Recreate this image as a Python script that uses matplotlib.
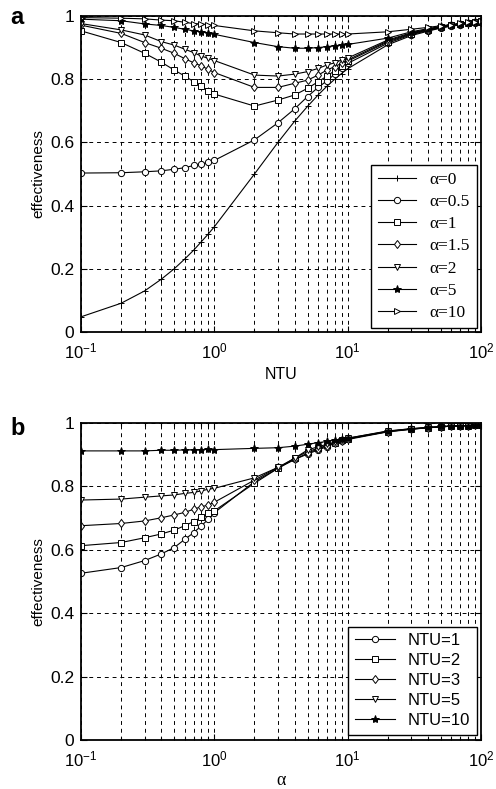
import matplotlib
matplotlib.use("Agg")
import matplotlib.pyplot as plt
from matplotlib.ticker import LogLocator, NullFormatter, FixedLocator

plt.rcParams['font.family'] = ['Liberation Sans', 'DejaVu Sans']
plt.rcParams['mathtext.default'] = 'regular'

# ── data ──────────────────────────────────────────────────────────────────────
xvals = [0.1, 0.2, 0.3, 0.4, 0.5, 0.6, 0.7, 0.8, 0.9, 1,
         2, 3, 4, 5, 6, 7, 8, 9, 10,
         20, 30, 40, 50, 60, 70, 80, 90, 100]

alpha_labels = ["α=0", "α=0.5", "α=1", "α=1.5", "α=2", "α=5", "α=10"]
eff_a0   = [0.048, 0.091, 0.130, 0.167, 0.200, 0.231, 0.259, 0.286, 0.310, 0.333,
            0.500, 0.600, 0.667, 0.714, 0.750, 0.778, 0.800, 0.818, 0.833,
            0.909, 0.938, 0.952, 0.962, 0.968, 0.972, 0.976, 0.978, 0.980]
eff_a05  = [0.503, 0.504, 0.507, 0.510, 0.515, 0.520, 0.527, 0.531, 0.537, 0.543,
            0.608, 0.662, 0.706, 0.745, 0.774, 0.795, 0.816, 0.834, 0.850,
            0.914, 0.941, 0.954, 0.963, 0.969, 0.973, 0.977, 0.979, 0.981]
eff_a1   = [0.953, 0.916, 0.882, 0.854, 0.829, 0.810, 0.792, 0.778, 0.764, 0.753,
            0.715, 0.734, 0.750, 0.771, 0.792, 0.810, 0.827, 0.842, 0.857,
            0.918, 0.943, 0.956, 0.964, 0.970, 0.974, 0.977, 0.980, 0.982]
eff_a15  = [0.971, 0.945, 0.916, 0.898, 0.882, 0.865, 0.852, 0.842, 0.831, 0.821,
            0.774, 0.774, 0.787, 0.797, 0.813, 0.829, 0.840, 0.850, 0.861,
            0.921, 0.945, 0.957, 0.965, 0.970, 0.975, 0.978, 0.980, 0.982]
eff_a2   = [0.976, 0.956, 0.940, 0.919, 0.908, 0.895, 0.884, 0.873, 0.866, 0.859,
            0.813, 0.810, 0.816, 0.824, 0.834, 0.845, 0.852, 0.861, 0.867,
            0.924, 0.947, 0.958, 0.966, 0.971, 0.975, 0.978, 0.981, 0.983]
eff_a5   = [0.990, 0.985, 0.975, 0.970, 0.964, 0.958, 0.953, 0.950, 0.947, 0.942,
            0.916, 0.903, 0.898, 0.898, 0.900, 0.903, 0.906, 0.908, 0.910,
            0.930, 0.950, 0.960, 0.967, 0.972, 0.976, 0.979, 0.981, 0.983]
eff_a10  = [0.995, 0.993, 0.991, 0.987, 0.985, 0.980, 0.976, 0.975, 0.972, 0.970,
            0.953, 0.947, 0.943, 0.943, 0.943, 0.943, 0.943, 0.943, 0.943,
            0.950, 0.958, 0.964, 0.969, 0.973, 0.977, 0.980, 0.982, 0.984]

ntu_labels = ["NTU=1", "NTU=2", "NTU=3", "NTU=5", "NTU=10"]
eff_n1  = [0.526, 0.544, 0.566, 0.587, 0.607, 0.633, 0.654, 0.676, 0.696, 0.717,
           0.815, 0.857, 0.885, 0.902, 0.915, 0.925, 0.936, 0.943, 0.948,
           0.972, 0.980, 0.985, 0.988, 0.990, 0.991, 0.992, 0.993, 0.994]
eff_n2  = [0.613, 0.623, 0.638, 0.650, 0.662, 0.676, 0.689, 0.703, 0.715, 0.723,
           0.810, 0.857, 0.889, 0.910, 0.920, 0.930, 0.938, 0.945, 0.950,
           0.973, 0.981, 0.985, 0.988, 0.990, 0.991, 0.992, 0.993, 0.994]
eff_n3  = [0.676, 0.683, 0.691, 0.701, 0.710, 0.718, 0.728, 0.736, 0.741, 0.750,
           0.820, 0.860, 0.885, 0.905, 0.918, 0.928, 0.937, 0.944, 0.950,
           0.973, 0.981, 0.985, 0.988, 0.990, 0.991, 0.992, 0.993, 0.994]
eff_n5  = [0.757, 0.760, 0.766, 0.770, 0.773, 0.778, 0.781, 0.786, 0.791, 0.794,
           0.827, 0.860, 0.889, 0.915, 0.925, 0.933, 0.940, 0.946, 0.952,
           0.974, 0.982, 0.986, 0.988, 0.990, 0.991, 0.992, 0.993, 0.994]
eff_n10 = [0.912, 0.912, 0.912, 0.914, 0.914, 0.915, 0.915, 0.916, 0.917, 0.916,
           0.920, 0.922, 0.927, 0.933, 0.938, 0.942, 0.946, 0.949, 0.952,
           0.975, 0.982, 0.986, 0.989, 0.990, 0.991, 0.992, 0.993, 0.994]

yticks = [0, 0.2, 0.4, 0.6, 0.8, 1]
ytick_labels = ["0", "0.2", "0.4", "0.6", "0.8", "1"]
xticks = [0.1, 1, 10, 100]
xtick_labels = ["$10^{-1}$", "$10^{0}$", "$10^{1}$", "$10^{2}$"]

# ── styles ────────────────────────────────────────────────────────────────────
top_series = [eff_a0, eff_a05, eff_a1, eff_a15, eff_a2, eff_a5, eff_a10]
top_markers = [("+", "k", 5), ("o", "white", 4.5), ("s", "white", 4.5),
               ("d", "white", 4.5), ("v", "white", 5), ("*", "k", 6),
               (">", "white", 5)]
bot_series = [eff_n1, eff_n2, eff_n3, eff_n5, eff_n10]
bot_markers = [("o", "white", 4.5), ("s", "white", 4.5), ("d", "white", 4.5),
               ("v", "white", 5), ("*", "k", 6)]

fig = plt.figure(figsize=(4.96, 7.89), dpi=100)
ax1 = fig.add_axes([81/496, 1-332/789, 400/496, 316/789])
ax2 = fig.add_axes([81/496, 1-740/789, 400/496, 317/789])


def style_axes(ax):
    ax.set_xscale("log")
    ax.set_xlim(0.1, 100)
    ax.set_ylim(0, 1)
    ax.xaxis.set_major_locator(FixedLocator(xticks))
    ax.set_xticklabels(xtick_labels, fontsize=12)
    ax.xaxis.set_minor_locator(LogLocator(base=10, subs=range(2, 10)))
    ax.xaxis.set_minor_formatter(NullFormatter())
    ax.set_yticks(yticks)
    ax.set_yticklabels(ytick_labels, fontsize=12.5)
    ax.tick_params(which="both", direction="in", top=True, right=True,
                   length=4, width=0.8)
    ax.tick_params(axis="x", which="major", pad=7)
    ax.tick_params(axis="y", which="major", pad=5)
    ax.tick_params(which="minor", length=2.5)
    ax.grid(True, which="both", axis="x", color="k", linestyle=(0, (4, 4)), linewidth=0.7)
    ax.grid(True, which="major", axis="y", color="k", linestyle=(0, (4, 4)), linewidth=0.7)
    for s in ax.spines.values():
        s.set_linewidth(1.3)
    ax.set_ylabel("effectiveness", fontsize=11, labelpad=3)


for ys, (m, fc, ms), lab in zip(top_series, top_markers, alpha_labels):
    ax1.plot(xvals, ys, color="k", linewidth=0.8, marker=m, markersize=ms,
             markerfacecolor=fc, markeredgecolor="k", markeredgewidth=0.7, label=lab)
style_axes(ax1)
ax1.set_xlabel("NTU", fontsize=11.5, labelpad=4)
leg1 = ax1.legend(loc="lower right", bbox_to_anchor=(477/496, 1-328/789),
                  bbox_transform=fig.transFigure, borderaxespad=0,
                  fancybox=False, framealpha=1, edgecolor="k",
                  prop={"family": "Liberation Serif", "size": 12.5},
                  handlelength=2.2, labelspacing=0.35, borderpad=0.4)
leg1.get_frame().set_linewidth(1.0)

for ys, (m, fc, ms), lab in zip(bot_series, bot_markers, ntu_labels):
    ax2.plot(xvals, ys, color="k", linewidth=0.8, marker=m, markersize=ms,
             markerfacecolor=fc, markeredgecolor="k", markeredgewidth=0.7, label=lab)
style_axes(ax2)
ax2.set_xlabel("α", fontsize=13, family="Liberation Serif", labelpad=2)
leg2 = ax2.legend(loc="lower right", bbox_to_anchor=(477/496, 1-735/789),
                  bbox_transform=fig.transFigure, borderaxespad=0,
                  fancybox=False, framealpha=1, edgecolor="k",
                  prop={"size": 12}, handlelength=2.4,
                  labelspacing=0.3, borderpad=0.4)
leg2.get_frame().set_linewidth(1.0)

fig.text(10/496, 1-18/789, "a", fontsize=17, fontweight="bold", va="center")
fig.text(10/496, 1-428/789, "b", fontsize=17, fontweight="bold", va="center")

fig.savefig("out.png", dpi=100)
